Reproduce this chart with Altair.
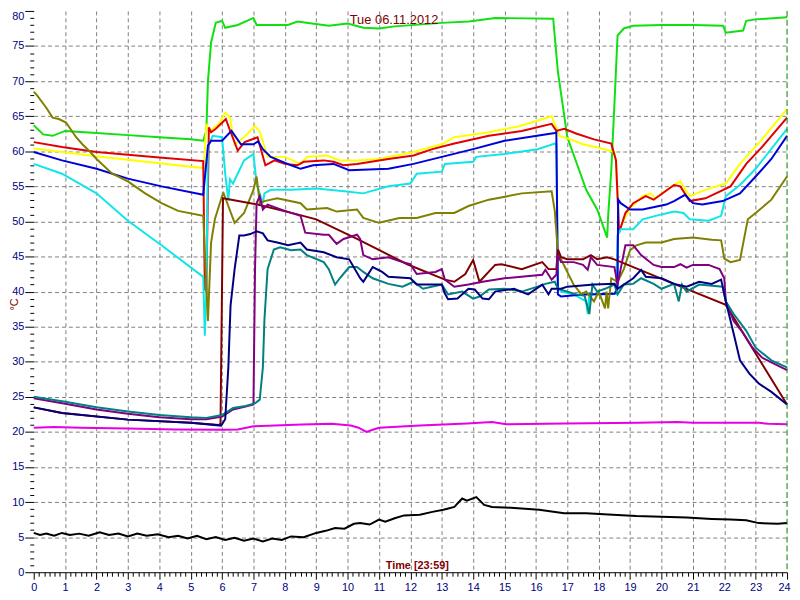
import altair as alt
import pandas as pd

# ---- data (hour of day, temperature °C) ----
green = [(0, 63.7), (0.3, 62.4), (0.6, 62.2), (1.0, 62.9), (2.0, 62.6), (3.0, 62.3), (4.0, 62.0),
         (5.0, 61.7), (5.4, 61.5), (5.5, 63.0), (5.55, 70.0), (5.65, 75.5), (5.8, 78.3), (6.0, 78.6),
         (6.1, 77.6), (6.5, 78.0), (7.0, 79.0), (7.1, 78.0), (8.1, 78.0), (8.4, 78.5), (9.4, 77.9),
         (10.0, 78.2), (10.5, 77.6), (11.0, 77.5), (11.5, 77.8), (13.0, 78.3), (13.85, 78.5),
         (14.05, 78.6), (14.7, 79.0), (16.55, 78.9), (16.7, 71.3), (17.0, 62.0), (17.45, 56.4),
         (17.6, 54.5), (17.95, 51.7), (18.27, 47.7), (18.3, 50.8), (18.4, 57.3), (18.5, 66.7),
         (18.6, 76.5), (18.8, 77.5), (19.1, 77.9), (20.0, 78.0), (21.0, 78.0), (21.96, 77.9),
         (22.05, 76.9), (22.6, 77.2), (22.7, 78.6), (23.0, 78.8), (24.0, 79.1)]
red = [(0, 61.3), (0.9, 60.6), (2.0, 59.9), (4.0, 59.1), (5.4, 58.6), (5.45, 40.4), (5.5, 40.0),
       (5.58, 63.4), (5.65, 62.7), (5.8, 63.2), (6.12, 64.6), (6.25, 63.0), (6.5, 60.1), (6.72, 61.3),
       (7.13, 62.0), (7.38, 58.0), (7.67, 58.7), (8.0, 58.2), (8.4, 58.0), (8.6, 58.5), (9.24, 58.7),
       (9.55, 58.5), (9.87, 58.0), (10.3, 58.2), (11.3, 58.9), (12.1, 59.4), (12.7, 60.3), (13.4, 61.1),
       (14.5, 62.2), (15.55, 62.9), (16.5, 63.9), (16.65, 62.9), (16.9, 63.2), (17.3, 62.5),
       (17.85, 61.7), (18.4, 61.1), (18.55, 58.7), (18.65, 48.4), (18.85, 51.2), (19.1, 52.6),
       (19.5, 53.6), (19.75, 53.1), (20.4, 55.2), (20.6, 55.0), (20.9, 52.9), (21.4, 53.3),
       (22.2, 55.0), (22.7, 58.2), (23.2, 60.6), (24.0, 64.8)]
yellow = [(0, 60.4), (2.0, 59.3), (5.4, 57.6), (5.45, 60.0), (5.5, 63.9), (5.6, 62.9), (5.9, 63.9),
          (6.1, 65.5), (6.25, 64.8), (6.4, 61.0), (6.7, 62.0), (7.05, 63.6), (7.2, 62.8), (7.45, 59.2),
          (8.0, 59.2), (8.5, 58.2), (8.7, 59.2), (9.35, 59.4), (9.75, 58.7), (10.3, 58.7), (11.0, 58.9),
          (12.1, 59.9), (13.0, 61.0), (13.4, 62.0), (14.5, 62.7), (15.5, 63.6), (16.5, 65.0),
          (16.6, 63.9), (16.75, 62.2), (17.1, 61.7), (17.5, 61.0), (18.1, 60.4), (18.5, 59.9),
          (18.55, 58.7), (18.65, 48.9), (19.0, 51.9), (19.4, 53.6), (19.65, 54.0), (19.8, 53.3),
          (20.4, 55.2), (20.6, 55.7), (20.9, 53.6), (21.4, 54.5), (22.05, 55.4), (22.5, 58.2),
          (23.2, 61.7), (24.0, 66.0)]
blue = [(0, 59.9), (0.9, 58.7), (2.0, 57.5), (3.0, 56.1), (4.07, 55.0), (5.4, 53.8), (5.55, 60.8),
        (5.65, 61.5), (6.0, 61.5), (6.3, 62.9), (6.6, 61.0), (7.0, 61.0), (7.15, 61.4), (7.3, 60.3),
        (7.55, 59.2), (8.2, 58.0), (8.5, 57.5), (8.9, 58.0), (9.55, 58.2), (10.05, 57.3), (11.3, 57.5),
        (12.1, 58.2), (13.0, 59.2), (14.0, 60.3), (15.0, 61.5), (16.6, 62.6), (16.65, 62.7),
        (16.7, 39.6), (16.8, 39.3), (17.5, 39.6), (18.5, 39.7), (18.6, 40.4), (18.62, 53.1),
        (18.7, 52.6), (19.0, 51.7), (19.4, 51.7), (20.15, 52.4), (20.4, 52.9), (20.75, 53.8),
        (21.0, 52.6), (21.3, 52.4), (21.95, 52.9), (22.5, 54.0), (23.0, 56.4), (23.5, 58.9), (24.0, 62.2)]
cyan = [(0, 58.2), (0.9, 56.8), (2.0, 54.0), (3.0, 50.1), (4.07, 46.6), (5.4, 42.1), (5.45, 33.7),
        (5.5, 40.0), (5.55, 60.6), (5.7, 62.2), (6.0, 62.0), (6.1, 56.8), (6.2, 53.0), (6.25, 56.0),
        (6.35, 55.4), (6.7, 58.7), (7.0, 59.6), (7.1, 55.4), (7.3, 52.6), (7.35, 54.0), (7.55, 54.5),
        (8.2, 54.5), (9.0, 54.7), (9.9, 54.3), (10.5, 54.0), (11.3, 55.0), (12.0, 55.4), (12.2, 56.8),
        (13.0, 57.1), (13.1, 58.2), (14.0, 58.5), (14.1, 59.2), (15.0, 59.6), (16.05, 60.3),
        (16.6, 61.1), (16.65, 61.0), (16.7, 40.5), (16.8, 40.0), (17.2, 39.6), (17.6, 38.6),
        (17.65, 36.8), (17.7, 39.6), (18.1, 39.6), (18.55, 39.7), (18.6, 48.0), (18.7, 48.9),
        (19.1, 48.9), (19.4, 50.3), (20.0, 51.0), (20.4, 51.4), (20.7, 51.2), (20.9, 50.3),
        (21.5, 50.1), (21.9, 50.8), (22.05, 53.6), (22.5, 55.2), (23.0, 57.5), (24.0, 63.2)]
olive = [(0, 68.5), (0.1, 68.0), (0.4, 66.2), (0.6, 64.8), (0.8, 64.6), (1.03, 64.1), (1.35, 62.0),
         (1.55, 61.0), (1.8, 59.9), (2.0, 58.9), (2.5, 56.8), (3.0, 55.7), (3.55, 54.0), (4.07, 52.6),
         (4.6, 51.5), (5.4, 50.8), (5.55, 35.8), (5.65, 47.0), (5.77, 50.3), (6.0, 53.6), (6.05, 54.0),
         (6.2, 52.2), (6.4, 49.8), (6.7, 51.2), (7.0, 54.5), (7.1, 56.4), (7.2, 52.6), (7.35, 52.9),
         (7.76, 53.3), (8.5, 52.6), (8.7, 51.7), (9.35, 51.9), (9.65, 51.4), (10.3, 51.7), (10.5, 50.5),
         (11.0, 49.8), (11.65, 50.5), (12.2, 50.5), (12.8, 51.2), (13.4, 51.2), (13.85, 52.2),
         (14.5, 53.1), (15.1, 53.6), (15.55, 54.0), (16.5, 54.3), (16.6, 51.5), (16.7, 45.6),
         (16.8, 44.6), (17.0, 42.8), (17.2, 41.0), (17.45, 39.6), (17.6, 40.0), (17.85, 38.6),
         (18.0, 40.0), (18.2, 37.6), (18.25, 40.0), (18.3, 37.6), (18.4, 41.9), (18.6, 41.4),
         (18.8, 43.2), (19.0, 45.9), (19.2, 46.6), (19.5, 47.0), (20.0, 47.0), (20.4, 47.5),
         (21.0, 47.7), (21.6, 47.4), (21.9, 47.3), (22.0, 44.7), (22.2, 44.2), (22.5, 44.5),
         (22.75, 50.3), (23.0, 51.2), (23.5, 53.1), (24.0, 56.4)]
maroon = [(0, 23.5), (0.9, 22.7), (3.0, 21.75), (5.0, 21.3), (5.9, 21.0), (5.95, 21.2),
          (6.03, 53.3), (7.13, 52.4), (8.4, 51.0), (9.0, 50.3), (10.3, 47.5), (11.9, 43.9), (13.1, 41.7),
          (13.4, 41.4), (13.75, 42.5), (14.0, 44.5), (14.2, 41.4), (14.7, 43.8), (14.9, 43.9),
          (15.55, 43.2), (16.2, 44.2), (16.4, 43.2), (16.65, 43.2), (16.7, 46.0), (16.8, 44.9),
          (17.0, 44.6), (17.5, 44.6), (17.75, 45.2), (17.95, 44.6), (18.27, 44.9), (18.5, 44.6),
          (20.4, 41.1), (22.05, 38.1), (24.0, 23.9)]
navy = [(0, 23.5), (0.9, 22.7), (3.0, 21.75), (5.0, 21.3), (5.97, 20.9), (6.1, 21.8), (6.2, 29.2),
        (6.27, 38.0), (6.4, 43.2), (6.55, 48.0), (6.7, 48.0), (6.9, 48.2), (7.1, 48.6), (7.3, 48.3),
        (7.45, 47.3), (7.76, 47.0), (8.1, 46.6), (8.5, 47.0), (8.7, 46.0), (9.24, 45.6), (9.65, 44.9),
        (10.05, 44.6), (10.4, 41.9), (10.5, 41.4), (10.8, 43.5), (11.1, 42.8), (11.3, 42.1),
        (12.0, 41.9), (12.2, 41.0), (13.0, 41.0), (13.1, 39.7), (13.2, 38.9), (13.5, 39.0),
        (13.85, 40.4), (14.05, 40.3), (14.3, 39.0), (14.5, 38.9), (14.7, 40.0), (15.3, 40.4),
        (15.75, 39.6), (16.2, 41.0), (16.4, 39.6), (16.5, 40.4), (16.8, 40.4), (17.0, 40.7),
        (17.85, 41.0), (18.5, 41.1), (18.6, 40.4), (19.1, 41.9), (19.35, 43.1), (19.5, 42.1),
        (20.0, 41.9), (20.4, 41.1), (20.8, 40.7), (21.2, 41.4), (21.6, 41.1), (21.9, 41.7),
        (22.05, 38.6), (22.3, 34.0), (22.5, 30.2), (22.8, 28.3), (23.1, 26.9), (23.5, 25.7), (24.0, 23.9)]
purple = [(0, 24.8), (1, 24.0), (2, 23.2), (3, 22.6), (4, 22.1), (5, 21.8), (5.5, 21.8), (6.0, 22.2),
          (6.35, 23.2), (6.75, 23.6), (7.0, 23.9), (7.05, 43.2), (7.1, 52.6), (7.2, 53.6), (7.3, 51.7),
          (7.45, 52.4), (8.0, 51.5), (8.5, 50.8), (8.65, 48.4), (9.24, 48.1), (9.4, 48.1), (9.65, 46.8),
          (9.87, 47.5), (10.3, 48.1), (10.4, 47.5), (10.5, 45.2), (10.8, 44.6), (11.3, 44.9),
          (11.75, 44.2), (12.0, 43.9), (12.2, 42.5), (12.8, 42.8), (13.0, 43.2), (13.1, 41.7),
          (13.4, 40.7), (13.85, 41.0), (14.3, 41.4), (15.0, 41.9), (16.2, 42.4), (16.3, 43.1),
          (16.5, 41.7), (16.65, 42.4), (16.7, 45.2), (16.8, 44.2), (17.2, 44.2), (17.5, 43.8),
          (17.65, 43.1), (17.75, 44.9), (17.95, 43.8), (18.5, 43.5), (18.6, 41.0), (18.85, 46.6),
          (19.1, 46.6), (19.35, 45.2), (19.75, 43.8), (20.0, 43.5), (20.4, 43.5), (20.6, 43.9),
          (20.8, 43.4), (21.0, 43.8), (21.5, 43.8), (21.85, 43.2), (22.0, 41.9), (22.05, 38.6),
          (22.3, 35.8), (22.6, 34.1), (22.9, 32.0), (23.2, 30.6), (23.5, 29.9), (24.0, 28.8)]
teal = [(0, 25.0), (1, 24.3), (2, 23.5), (3, 22.9), (4, 22.4), (5, 22.1), (5.5, 22.0), (6.0, 22.4),
        (6.35, 23.4), (6.75, 23.7), (7.06, 24.1), (7.2, 24.6), (7.3, 29.2), (7.35, 36.0), (7.45, 43.2),
        (7.65, 46.0), (7.85, 46.3), (8.2, 45.9), (8.5, 46.0), (8.7, 45.2), (9.24, 44.2), (9.4, 43.2),
        (9.6, 41.0), (9.75, 41.9), (10.05, 43.5), (10.3, 43.5), (10.5, 42.8), (10.8, 41.9),
        (11.3, 41.1), (11.75, 40.7), (12.1, 41.4), (12.4, 40.4), (13.0, 41.0), (13.2, 39.6),
        (13.65, 40.0), (14.0, 39.0), (14.2, 39.3), (14.5, 40.3), (15.0, 40.4), (15.55, 40.0),
        (16.05, 40.7), (16.3, 41.1), (16.6, 41.4), (16.7, 40.4), (17.0, 40.0), (17.3, 39.6),
        (17.55, 39.4), (17.7, 36.8), (17.8, 41.0), (17.95, 40.0), (18.2, 40.4), (18.5, 41.0),
        (18.6, 39.6), (18.8, 41.0), (19.1, 41.1), (19.35, 41.9), (19.75, 41.1), (20.0, 40.4),
        (20.4, 41.1), (20.55, 38.6), (20.65, 41.0), (20.8, 40.0), (21.2, 41.0), (21.95, 40.7),
        (22.05, 38.6), (22.3, 36.8), (22.7, 34.4), (23.0, 32.0), (23.5, 30.2), (24.0, 29.2)]
magenta = [(0, 20.6), (0.65, 20.7), (1.5, 20.6), (3.0, 20.5), (4.5, 20.35), (6.06, 20.3), (6.5, 20.35),
           (7.0, 20.8), (8.55, 21.05), (9.5, 21.15), (10.1, 20.9), (10.35, 20.6), (10.6, 20.0),
           (10.8, 20.3), (11.0, 20.6), (12.3, 20.9), (13.8, 21.2), (14.6, 21.4), (15.05, 21.1),
           (16.9, 21.2), (19.25, 21.3), (20.5, 21.4), (21.0, 21.3), (23.1, 21.3), (23.4, 21.15), (24.0, 21.1)]
black = [(0, 5.6), (0.2, 5.3), (0.4, 5.5), (0.65, 5.2), (0.9, 5.6), (1.15, 5.3), (1.45, 5.5),
         (1.75, 5.2), (2.1, 5.7), (2.4, 5.3), (2.7, 5.5), (3.0, 5.1), (3.3, 5.5), (3.6, 5.2),
         (3.95, 5.4), (4.3, 5.0), (4.6, 5.2), (4.9, 4.8), (5.2, 5.2), (5.5, 4.7), (5.8, 5.0),
         (6.1, 4.6), (6.4, 4.9), (6.7, 4.5), (7.0, 4.8), (7.3, 4.4), (7.6, 4.8), (7.9, 4.6),
         (8.2, 5.1), (8.6, 5.0), (9.0, 5.6), (9.3, 5.9), (9.6, 6.3), (9.9, 6.2), (10.2, 6.9),
         (10.4, 7.0), (10.7, 6.8), (11.0, 7.5), (11.2, 7.2), (11.5, 7.7), (11.8, 8.1), (12.3, 8.2),
         (12.7, 8.6), (13.05, 8.9), (13.4, 9.3), (13.65, 10.5), (13.8, 10.2), (14.1, 10.7),
         (14.35, 9.6), (14.6, 9.3), (15.2, 9.2), (16.1, 8.9), (16.9, 8.4), (17.6, 8.4), (18.45, 8.2),
         (19.2, 8.0), (20.0, 7.9), (20.8, 7.8), (21.6, 7.6), (22.2, 7.5), (22.7, 7.4), (23.1, 7.0),
         (23.7, 6.9), (24.0, 7.0)]

now_marker = [24]
hour_ticks = [k / 6 for k in range(0, 145)]
temp_ticks = list(range(0, 81))
chart_title = "Tue  06.11.2012"

series = [
    ("black", "#000000", black),
    ("magenta", "#e600e6", magenta),
    ("green", "#10e010", green),
    ("yellow", "#ffff00", yellow),
    ("red", "#e00000", red),
    ("cyan", "#10e6e6", cyan),
    ("blue", "#0000d8", blue),
    ("olive", "#808000", olive),
    ("maroon", "#800000", maroon),
    ("purple", "#800080", purple),
    ("teal", "#008080", teal),
    ("navy", "#000080", navy),
]

rows = []
for name, _, pts in series:
    for h, v in pts:
        rows.append({"series": name, "hour": h, "temp": v})
df = pd.DataFrame(rows)

is_hour = "abs(datum.value - round(datum.value)) < 0.01"
x_axis = alt.Axis(
    values=hour_ticks,
    labelExpr=f"{is_hour} ? format(round(datum.value), 'd') : ''",
    labelOverlap=False, labelFlush=False, labelColor="#000080",
    labelFont="Liberation Sans", labelFontSize=11, labelPadding=2,
    labelAlign={"condition": {"test": "datum.value > 23.9", "value": "right"}, "value": "center"},
    labelOffset={"condition": {"test": "datum.value > 23.9", "value": 3}, "value": 0},
    tickColor="#000000",
    tickSize={"condition": {"test": is_hour, "value": 7}, "value": 4},
    grid=True, gridColor="#808080", gridDash=[4, 3],
    gridOpacity={"condition": {"test": f"{is_hour} && datum.value > 0.5 && datum.value < 23.5", "value": 1}, "value": 0},
    domainColor="#000000",
    title="Time [23:59]", titleColor="#800000", titleFont="Liberation Sans",
    titleFontSize=11, titleFontWeight="bold", titleX=387, titleY=-2,
    titleBaseline="bottom", titleAlign="center",
)
y_axis = alt.Axis(
    values=temp_ticks,
    labelExpr="datum.value % 5 === 0 ? format(datum.value, 'd') : ''",
    labelOverlap=False, labelColor="#000080",
    labelFont="Liberation Sans", labelFontSize=11, labelPadding=1,
    labelBaseline={"condition": {"test": "datum.value > 79.5", "value": "top"}, "value": "middle"},
    tickColor="#000000",
    tickSize={"condition": {"test": "datum.value % 5 === 0", "value": 9}, "value": 4},
    grid=True, gridColor="#808080", gridDash=[4, 3],
    gridOpacity={"condition": {"test": "datum.value % 5 === 0 && datum.value > 0 && datum.value < 80", "value": 1}, "value": 0},
    domain=False,
    title="°C", titleColor="#800000", titleFont="Liberation Sans", titleFontSize=11,
    titleFontWeight="normal", titleX=-19, titleY=296, titleBaseline="middle", titleAlign="center",
)

x_enc = alt.X("hour:Q", scale=alt.Scale(domain=[0, 24], nice=False, zero=False), axis=x_axis)
y_enc = alt.Y("temp:Q", scale=alt.Scale(domain=[0, 80], nice=False), axis=y_axis)

layers = []
for name, color, _ in series:
    layers.append(
        alt.Chart(df)
        .transform_filter(alt.datum.series == name)
        .mark_line(color=color, strokeWidth=2)
        .encode(x=x_enc, y=y_enc)
    )

marker = (
    alt.Chart(pd.DataFrame({"hour": now_marker}))
    .mark_rule(color="#008000", strokeDash=[6, 3], strokeWidth=1)
    .encode(x=x_enc)
)

title_text = (
    alt.Chart(pd.DataFrame({"label": [chart_title]}))
    .mark_text(color="#800000", font="Liberation Sans", fontSize=13, align="center", baseline="middle")
    .encode(x=alt.value(364), y=alt.value(9), text="label:N")
)

chart = (
    alt.layer(*layers, marker, title_text)
    .properties(
        width=761, height=567,
        autosize=alt.AutoSizeParams(type="none"),
        padding={"left": 26, "top": 0, "right": 5, "bottom": 17},
        background="#ffffff",
    )
    .configure_view(strokeWidth=0)
)

chart.save("out.html", embed_options={"renderer": "svg", "actions": False})
